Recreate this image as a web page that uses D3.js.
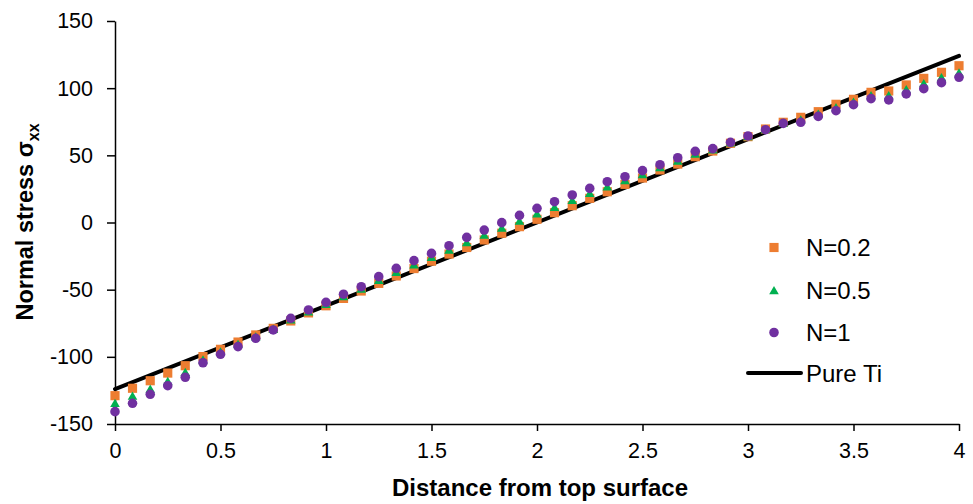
<!DOCTYPE html>
<html>
<head>
<meta charset="utf-8">
<script src="https://cdn.jsdelivr.net/npm/d3@7"></script>
<style>
  html, body { margin: 0; padding: 0; background: #fff; }
  svg { display: block; font-family: "Liberation Sans", Arial, sans-serif; }
</style>
</head>
<body>
<svg id="chart" width="973" height="504"></svg>
<script>
// ---- data ----
const distance = [0, 0.083, 0.167, 0.25, 0.333, 0.417, 0.5, 0.583, 0.667, 0.75, 0.833, 0.917,
  1, 1.083, 1.167, 1.25, 1.333, 1.417, 1.5, 1.583, 1.667, 1.75, 1.833, 1.917,
  2, 2.083, 2.167, 2.25, 2.333, 2.417, 2.5, 2.583, 2.667, 2.75, 2.833, 2.917,
  3, 3.083, 3.167, 3.25, 3.333, 3.417, 3.5, 3.583, 3.667, 3.75, 3.833, 3.917, 4];

const n02 = [-128.9, -123.4, -117.8, -112.1, -106.6, -99.8, -94.4, -89.0, -83.7, -78.8, -73.3, -67.3,
  -62.0, -56.5, -51.0, -45.3, -39.8, -34.3, -28.8, -23.5, -18.6, -13.0, -8.0, -3.1,
  2.4, 7.3, 12.5, 18.0, 22.9, 28.4, 33.1, 39.1, 43.5, 49.0, 53.2, 59.0,
  63.9, 69.6, 74.6, 78.3, 82.5, 88.0, 91.7, 96.9, 97.9, 102.4, 107.3, 111.8, 116.7];

const n05 = [-134.6, -129.2, -124.0, -118.2, -111.5, -102.3, -96.3, -90.6, -85.0, -79.4, -72.4, -66.4,
  -60.8, -55.0, -49.4, -42.9, -37.0, -31.4, -25.9, -20.4, -14.9, -9.3, -4.1, 1.1,
  6.5, 11.4, 16.5, 21.7, 26.6, 31.2, 35.8, 41.0, 45.8, 51.0, 54.1, 59.3,
  64.1, 69.3, 74.1, 76.4, 80.7, 85.5, 89.7, 94.5, 94.5, 99.0, 103.4, 107.9, 111.5];

const n1 = [-140.8, -134.6, -127.9, -121.5, -115.2, -104.4, -98.1, -92.4, -86.2, -80.0, -71.3, -65.1,
  -59.4, -53.4, -47.8, -40.3, -34.1, -28.4, -23.0, -17.3, -11.1, -5.6, -0.1, 5.3,
  10.6, 15.5, 20.5, 25.4, 30.4, 34.1, 38.6, 43.0, 48.2, 53.0, 55.0, 59.7,
  64.4, 69.1, 73.8, 74.6, 79.0, 83.2, 87.7, 92.2, 91.2, 95.7, 99.6, 104.1, 108.1];

const pureTiX = [0, 4];
const pureTiY = [-124, 124];

const xTicks = [0, 0.5, 1, 1.5, 2, 2.5, 3, 3.5, 4];
const yTicks = [-150, -100, -50, 0, 50, 100, 150];

const seriesNames = ["N=0.2", "N=0.5", "N=1", "Pure Ti"];
const colors = { sq: "#ED7D31", tri: "#00B050", circ: "#7030A0", line: "#000000" };

// ---- chart ----
const svg = d3.select("#chart");
const x = d3.scaleLinear().domain([0, 4]).range([115, 959]);
const y = d3.scaleLinear().domain([-150, 150]).range([424, 21]);

const fmt = d => String(d);

// axes
const xAxis = svg.append("g").attr("transform", `translate(0,${y(-150)})`)
  .call(d3.axisBottom(x).tickValues(xTicks).tickFormat(fmt).tickSize(7).tickSizeOuter(0).tickPadding(12));
const yAxis = svg.append("g").attr("transform", `translate(${x(0)},0)`)
  .call(d3.axisLeft(y).tickValues(yTicks).tickFormat(fmt).tickSize(8).tickSizeOuter(0).tickPadding(14));

[xAxis, yAxis].forEach(g => {
  g.selectAll("path.domain").attr("stroke", "#000").attr("stroke-width", 1.5);
  g.selectAll(".tick line").attr("stroke", "#000").attr("stroke-width", 1.5);
  g.selectAll(".tick text").attr("fill", "#000").style("font-size", "21.5px")
    .style("font-family", "'Liberation Sans', Arial, sans-serif");
});

// Pure Ti line
const lineData = pureTiX.map((d, i) => [d, pureTiY[i]]);
svg.append("path")
  .datum(lineData)
  .attr("d", d3.line().x(d => x(d[0])).y(d => y(d[1])))
  .attr("stroke", colors.line).attr("stroke-width", 4).attr("fill", "none")
  .attr("stroke-linecap", "round");

const sqSym = d3.symbol().type(d3.symbolSquare).size(84);
const triSym = d3.symbol().type(d3.symbolTriangle).size(40);
const circSym = d3.symbol().type(d3.symbolCircle).size(72);

// N=0.2 squares
svg.append("g").selectAll("path").data(distance).join("path")
  .attr("d", sqSym)
  .attr("transform", (d, i) => `translate(${x(d)},${y(n02[i])})`)
  .attr("fill", colors.sq);

// N=0.5 triangles
svg.append("g").selectAll("path").data(distance).join("path")
  .attr("d", triSym)
  .attr("transform", (d, i) => `translate(${x(d)},${y(n05[i]) + 1})`)
  .attr("fill", colors.tri);

// N=1 circles
svg.append("g").selectAll("path").data(distance).join("path")
  .attr("d", circSym)
  .attr("transform", (d, i) => `translate(${x(d)},${y(n1[i])})`)
  .attr("fill", colors.circ);

// axis titles
svg.append("text")
  .attr("x", 540).attr("y", 496)
  .attr("text-anchor", "middle")
  .style("font-size", "24px").style("font-weight", "bold")
  .text("Distance from top surface");

const yt = svg.append("text")
  .attr("transform", "translate(33,222) rotate(-90)")
  .attr("text-anchor", "middle")
  .style("font-size", "23.5px").style("font-weight", "bold");
yt.append("tspan").text("Normal stress σ");
yt.append("tspan").attr("dy", 6).style("font-size", "16px").text("xx");

// legend
const legend = svg.append("g");
const legY = [247.5, 290.5, 332.5, 373];
const legMarkerX = 774;
const legTextX = 806;

legend.append("path").attr("d", sqSym)
  .attr("transform", `translate(${legMarkerX},${legY[0]})`).attr("fill", colors.sq);
legend.append("path").attr("d", triSym)
  .attr("transform", `translate(${legMarkerX},${legY[1] + 1})`).attr("fill", colors.tri);
legend.append("path").attr("d", circSym)
  .attr("transform", `translate(${legMarkerX},${legY[2]})`).attr("fill", colors.circ);
legend.append("line")
  .attr("x1", 748).attr("x2", 801).attr("y1", legY[3]).attr("y2", legY[3])
  .attr("stroke", colors.line).attr("stroke-width", 4).attr("stroke-linecap", "round");

legend.selectAll("text").data(seriesNames).join("text")
  .attr("x", legTextX).attr("y", (d, i) => legY[i])
  .attr("dy", "0.36em")
  .style("font-size", "24px")
  .attr("fill", "#000")
  .text(d => d);
</script>
</body>
</html>
